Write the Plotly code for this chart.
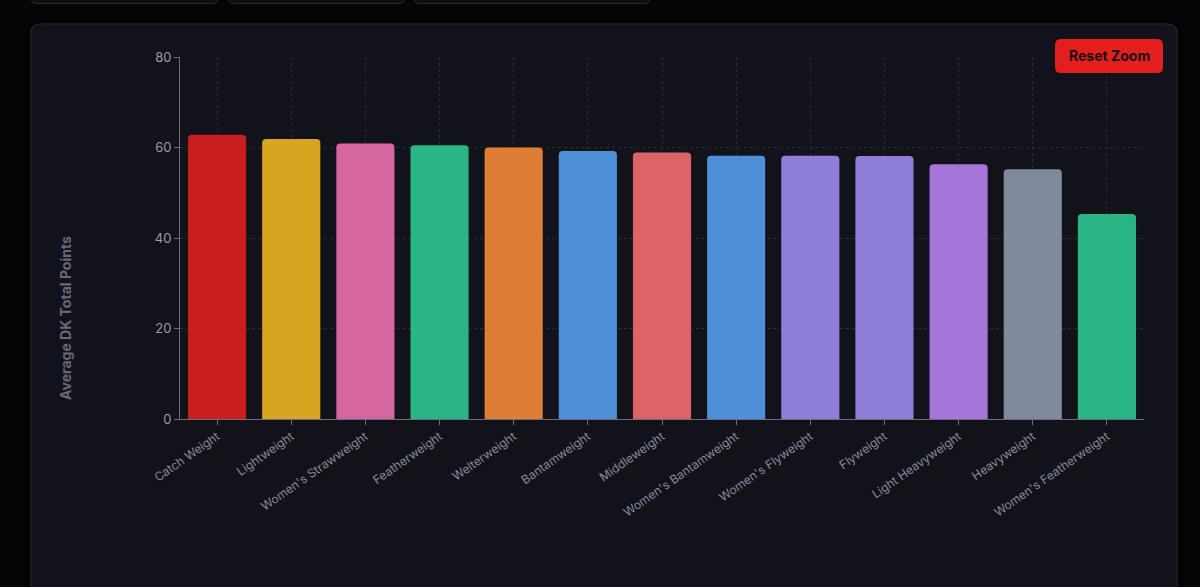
import plotly.graph_objects as go

W, H = 1200, 587

categories = ["Catch Weight", "Lightweight", "Women's Strawweight", "Featherweight",
              "Welterweight", "Bantamweight", "Middleweight", "Women's Bantamweight",
              "Women's Flyweight", "Flyweight", "Light Heavyweight", "Heavyweight",
              "Women's Featherweight"]
avg_points = [62.8, 61.9, 60.9, 60.5, 60.0, 59.2, 58.9, 58.2, 58.2, 58.1, 56.3, 55.2, 45.3]
bar_colors = ["#c81e1e", "#d9a521", "#d6669f", "#2ab587", "#dd7d36", "#4d90d8",
              "#dc6466", "#4d90d8", "#8f7ed8", "#8f7ed8", "#a575d9", "#7f8b9c", "#2ab587"]
y_ticks = [0, 20, 40, 60, 80]


def px(x):
    return x / W


def py(y):
    return 1 - y / H


def rounded_rect(x0, y0, x1, y1, r):
    rx, ry = r / W, r / H
    X0, X1 = px(x0), px(x1)
    Y0, Y1 = py(y0), py(y1)  # Y0 top (higher), Y1 bottom
    return (f"M {X0+rx},{Y0} L {X1-rx},{Y0} Q {X1},{Y0} {X1},{Y0-ry} "
            f"L {X1},{Y1+ry} Q {X1},{Y1} {X1-rx},{Y1} "
            f"L {X0+rx},{Y1} Q {X0},{Y1} {X0},{Y1+ry} "
            f"L {X0},{Y0-ry} Q {X0},{Y0} {X0+rx},{Y0} Z")


fig = go.Figure()
fig.add_trace(go.Bar(
    x=categories, y=avg_points,
    marker=dict(color=bar_colors, line=dict(width=0)),
    hoverinfo="x+y",
))

shapes = []
# top partial boxes
for (a, b) in [(31, 218), (228, 405), (414, 650)]:
    shapes.append(dict(type="path", xref="paper", yref="paper",
                       path=rounded_rect(a, -20, b, 3.5, 6),
                       fillcolor="#0d0e13", line=dict(color="#2a2b33", width=1), layer="below"))
# card
shapes.append(dict(type="path", xref="paper", yref="paper",
                   path=rounded_rect(31, 24, 1177, 620, 10),
                   fillcolor="#12131a", line=dict(color="#24252d", width=1.2), layer="below"))
# reset zoom button
shapes.append(dict(type="path", xref="paper", yref="paper",
                   path=rounded_rect(1055, 39, 1163, 73, 6),
                   fillcolor="#e3201f", line=dict(width=0), layer="above"))

fig.update_layout(
    width=W, height=H,
    margin=dict(l=0, r=0, t=0, b=0),
    paper_bgcolor="#050507",
    plot_bgcolor="rgba(0,0,0,0)",
    font=dict(family="Inter, sans-serif", color="#8b8e9c"),
    bargap=0.216,
    barcornerradius=4,
    showlegend=False,
    shapes=shapes,
    xaxis=dict(
        domain=[px(180), px(1144)],
        tickangle=-35,
        tickfont=dict(size=12, color="#858899"),
        showline=True, linecolor="#6b6e7a", linewidth=1,
        ticks="outside", ticklen=5, tickcolor="#6b6e7a",
        showgrid=True, gridcolor="#2a2c37", griddash="3px,3px", gridwidth=1,
        automargin=False, fixedrange=False,
    ),
    yaxis=dict(
        domain=[py(419), py(57)],
        range=[0, 80],
        tickvals=y_ticks,
        tickfont=dict(size=13, color="#9a9cab"),
        showline=True, linecolor="#6b6e7a", linewidth=1,
        ticks="outside", ticklen=5, tickcolor="#6b6e7a",
        showgrid=True, gridcolor="#2a2c37", griddash="3px,3px", gridwidth=1,
        zeroline=False, automargin=False,
    ),
    annotations=[
        dict(text="<b>Average DK Total Points</b>", x=px(65), y=py(318),
             xref="paper", yref="paper", showarrow=False, textangle=-90,
             font=dict(size=14, color="#666979"), xanchor="center", yanchor="middle"),
        dict(text="<b>Reset Zoom</b>", x=px(1109), y=py(56),
             xref="paper", yref="paper", showarrow=False,
             font=dict(size=14, color="#1a0c0c"), xanchor="center", yanchor="middle"),
    ],
)

fig.write_html("out.html")
